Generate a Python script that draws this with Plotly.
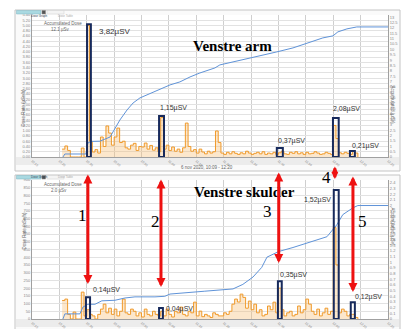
import numpy as np
import pandas as pd
import plotly.graph_objects as go

# ---------------------------------------------------------------- data
START = pd.Timestamp("2020-11-06 10:10")
END = pd.Timestamp("2020-11-06 12:20")

# one dose-rate sample per minute after 10:10
minutes = list(range(11, 120))

# left arm dosimeter, dose rate (µSv/h)
arm_rate = [
    0.30, 0.42, 0.25, 0, 0, 0, 0, 0.34, 0,
    5.00, 0.60, 0.19, 0.28, 0.15, 0.76, 0.40, 1.18, 0.91, 0.45,
    0.76, 1.10, 0.55, 0.60, 0.35, 0.30, 0.45, 0.52, 0.25, 0.40,
    0.38, 0.53, 0.30, 0.44, 0.26, 0.35, 0.20, 1.50, 0.30, 0.45,
    0.25, 0.38, 0.22, 0.30, 0.18, 0.35, 1.29, 0.40, 0.22, 0.28,
    0.15, 0.30, 0.19, 0.12, 0.22, 0.15, 0.20, 0.99, 0.55, 0.15,
    0.10, 0.18, 0.12, 0.20, 0.14, 0.10, 0.16, 0.12, 0.22, 0.15,
    0.10, 0.14, 0.18, 0.12, 0.20, 0.10, 0.15, 0.12, 0.18, 0.10,
    0.16, 0.22, 0.12, 0.10, 0.18, 0.14, 0.20, 0.12, 0.16, 0.10,
    0.18, 0.12, 0.14, 0.20, 0.15, 0.10, 0.12, 0.18, 0.14, 0.10,
    1.20, 0.70, 0.16, 0.12, 0.18, 0.14, 0.10, 0.22, 0.15, 0,
]

# left shoulder dosimeter, dose rate (nSv/h)
shoulder_rate = [
    120, 129, 30, 0, 45, 0, 0, 174, 20,
    60, 30, 20, 0, 30, 64, 96, 40, 70, 30,
    64, 20, 50, 129, 40, 30, 64, 50, 20, 40,
    13, 64, 30, 20, 50, 30, 20, 50, 20, 64,
    30, 13, 50, 40, 77, 30, 20, 50, 40, 109,
    20, 51, 15, 30, 20, 10, 40, 30, 20, 20,
    40, 30, 50, 96, 129, 110, 161, 140, 70, 116,
    60, 96, 40, 60, 20, 30, 84, 60, 109, 40,
    200, 60, 20, 40, 50, 20, 30, 84, 40, 60,
    129, 96, 50, 30, 64, 20, 40, 70, 30, 50,
    592, 350, 40, 64, 50, 20, 30, 30, 10, 0,
]

# accumulated dose curves (µSv)
arm_acc_min = [11.3, 12.0, 19.7, 20.4, 21.5, 24.8, 28.5, 30.3, 32.1, 34.7,
               36.9, 39.4, 42.0, 45.6, 47.8, 50.4, 54.0, 57.7, 61.3, 66.8,
               68.6, 73.4, 80.7, 89.4, 95.3, 101.5, 106.2, 109.9, 111.7, 115.0,
               118.6, 130.0]
arm_acc = [0, 0.28, 0.28, 1.30, 1.45, 1.47, 1.86, 2.70, 3.44, 4.37,
           5.02, 5.49, 5.77, 6.14, 6.42, 6.70, 6.98, 7.44, 7.81, 8.28,
           8.56, 8.83, 9.21, 9.77, 10.14, 10.70, 11.07, 11.26, 11.63, 11.91,
           12.09, 12.09]

shoulder_acc_min = [11.3, 12.0, 17.5, 18.6, 20.4, 23.0, 25.5, 30.3, 33.9, 37.6,
                    44.9, 48.5, 50.4, 54.7, 63.1, 73.4, 77.0, 80.7, 83.9, 85.8,
                    90.1, 95.3, 101.5, 107.7, 111.3, 113.5, 117.2, 119.0, 130.0]
shoulder_acc = [0, 0.09, 0.09, 0.21, 0.26, 0.26, 0.32, 0.33, 0.37, 0.39,
                0.39, 0.40, 0.44, 0.46, 0.49, 0.53, 0.61, 0.74, 0.91, 1.09,
                1.19, 1.26, 1.35, 1.45, 1.66, 1.84, 1.96, 2.00, 2.00]

arm_total = "12.1 µSv"
shoulder_total = "2.0 µSv"

# highlighted exposure windows (minutes after 10:10) and dose per window
arm_win_start = [20.1, 46.4, 89.4, 109.9, 116.1]
arm_win_end = [21.5, 48.2, 91.6, 112.0, 117.9]
arm_win_peak = [5.05, 1.56, 0.34, 1.48, 0.23]
arm_dose = [3.82, 1.15, 0.37, 2.08, 0.21]

shoulder_win_start = [19.7, 46.4, 89.8, 110.2, 116.4]
shoulder_win_end = [21.2, 47.8, 91.2, 112.0, 117.9]
shoulder_win_peak = [141, 71, 244, 836, 109]
shoulder_dose = [0.14, 0.04, 0.35, 1.52, 0.12]

# numbered procedure steps
step_min = [20.4, 47.1, 90.1, 110.6, 117.2]
step_labels = ["1", "2", "3", "4", "5"]

# ---------------------------------------------------------------- helpers
W, H = 402, 329


def t(m):
    return START + pd.to_timedelta(np.asarray(m, dtype=float), unit="min")


def ts(m):
    return str(START + pd.Timedelta(minutes=float(m)))


def px(x):
    return x / W


def py(y):
    return 1 - y / H


def dose_text(v):
    return f"{v:.2f}".replace(".", ",") + "µSV"


SANS = "Liberation Sans"
SERIF = "Liberation Serif"
ORANGE = "#f09a2a"
ORANGE_FILL = "rgba(247,186,110,0.35)"
BLUE = "#5f93d8"
NAVY = "#172a5c"
RED = "#ee1111"
tick_font = dict(family=SANS, size=4, color="#888")
xtick_font = dict(family=SANS, size=3.2, color="#888")

fig = go.Figure()

# ---------------------------------------------------------------- traces
fig.add_trace(go.Scatter(x=t(minutes), y=arm_rate, xaxis="x", yaxis="y",
                         mode="lines", line=dict(color=ORANGE, width=1, shape="hv"),
                         fill="tozeroy", fillcolor=ORANGE_FILL, showlegend=False))
fig.add_trace(go.Scatter(x=t(arm_acc_min), y=arm_acc, xaxis="x", yaxis="y2",
                         mode="lines", line=dict(color=BLUE, width=1), showlegend=False))
fig.add_trace(go.Scatter(x=t(minutes), y=shoulder_rate, xaxis="x2", yaxis="y3",
                         mode="lines", line=dict(color=ORANGE, width=1, shape="hv"),
                         fill="tozeroy", fillcolor=ORANGE_FILL, showlegend=False))
fig.add_trace(go.Scatter(x=t(shoulder_acc_min), y=shoulder_acc, xaxis="x2", yaxis="y4",
                         mode="lines", line=dict(color=BLUE, width=1), showlegend=False))

# ---------------------------------------------------------------- axes
xdom = [px(32), px(388)]
top_dom = [py(157), py(15)]
bot_dom = [py(319), py(180)]

xcommon = dict(type="date", range=[str(START), str(END)], tick0=str(START), dtick=600000,
               tickformat="%H:%M", tickangle=40, tickfont=xtick_font, showgrid=True,
               gridcolor="#cfcfcf", gridwidth=1, showline=True, linecolor="#a0a0a0",
               ticks="", zeroline=False, domain=xdom, automargin=False,
               ticklabelstandoff=0)
ycommon = dict(showgrid=True, gridcolor="#e2e2e2", gridwidth=1, zeroline=False,
               showline=True, linecolor="#a0a0a0", ticks="", tickfont=tick_font,
               automargin=False)
yright = dict(showgrid=False, zeroline=False, ticks="", tickfont=tick_font,
              side="right", automargin=False, showline=True, linecolor="#a0a0a0")

fig.update_layout(
    width=W, height=H, margin=dict(l=0, r=0, t=0, b=0),
    paper_bgcolor="white", plot_bgcolor="white", showlegend=False,
    xaxis=dict(xcommon, anchor="y"),
    xaxis2=dict(xcommon, anchor="y3"),
    yaxis=dict(ycommon, domain=top_dom, range=[0, 5.4], dtick=0.2, tickformat=".2f", anchor="x"),
    yaxis2=dict(yright, overlaying="y", range=[0, 13.2], dtick=0.5, anchor="x"),
    yaxis3=dict(ycommon, domain=bot_dom, range=[0, 900], dtick=50, anchor="x2"),
    yaxis4=dict(yright, overlaying="y3", range=[0, 2.45], dtick=0.1, anchor="x2"),
)

shapes = []
annotations = []

# ---------------------------------------------------------------- window chrome
for top, bottom, plot_top, plot_bottom in [(10, 171, 15, 157), (175, 340, 180, 319)]:
    shapes.append(dict(type="rect", xref="paper", yref="paper", layer="below",
                       x0=px(15), x1=px(400), y0=py(bottom), y1=py(top),
                       line=dict(color="#c4c4c4", width=1), fillcolor="#fafafa"))
    shapes.append(dict(type="rect", xref="paper", yref="paper", layer="below",
                       x0=px(16), x1=px(399), y0=py(plot_bottom + 8), y1=py(plot_bottom),
                       line=dict(width=0), fillcolor="#ececec"))
    shapes.append(dict(type="rect", xref="paper", yref="paper", layer="below",
                       x0=px(32), x1=px(388), y0=py(plot_bottom), y1=py(plot_top),
                       line=dict(width=0), fillcolor="white"))
    # tab strip
    shapes.append(dict(type="rect", xref="paper", yref="paper",
                       x0=px(16.5), x1=px(41), y0=py(top + 4), y1=py(top + 0.5),
                       line=dict(color="#7fb7c2", width=0.5), fillcolor="#a9d9e1"))
    shapes.append(dict(type="rect", xref="paper", yref="paper",
                       x0=px(42), x1=px(45.5), y0=py(top + 4), y1=py(top + 0.5),
                       line=dict(color="#888", width=0.5), fillcolor="#555"))
    shapes.append(dict(type="rect", xref="paper", yref="paper",
                       x0=px(47), x1=px(64), y0=py(top + 4), y1=py(top + 0.5),
                       line=dict(color="#d0d0d0", width=0.5), fillcolor="#f4f4f4"))
    annotations.append(dict(xref="paper", yref="paper", x=px(29), y=py(top + 2.3),
                            text="Dose Graph", showarrow=False,
                            font=dict(family=SANS, size=3, color="#345")))
    annotations.append(dict(xref="paper", yref="paper", x=px(55.5), y=py(top + 2.3),
                            text="Dose Table", showarrow=False,
                            font=dict(family=SANS, size=3, color="#aaa")))

small = dict(family=SANS, size=4.5, color="#666")
for plot_top, total, rate_title in [(15, arm_total, "Dose Rate (µSv/h)"),
                                    (180, shoulder_total, "Dose Rate (nSv/h)")]:
    annotations.append(dict(xref="paper", yref="paper", x=px(42), y=py(plot_top + 4),
                            xanchor="left", text="Accumulated Dose", showarrow=False, font=small))
    annotations.append(dict(xref="paper", yref="paper", x=px(49), y=py(plot_top + 10),
                            xanchor="left", text=total, showarrow=False, font=small))
    annotations.append(dict(xref="paper", yref="paper", x=px(19), y=py(plot_top + 72),
                            text=rate_title, textangle=-90, showarrow=False, font=small))
    annotations.append(dict(xref="paper", yref="paper", x=px(396.5), y=py(plot_top + 68),
                            text="Accumulated (µSv)", textangle=90, showarrow=False, font=small))

annotations.append(dict(xref="paper", yref="paper", x=px(207), y=py(167.5),
                        text="6 nov 2020, 10:09 - 12:20", showarrow=False, font=small))

# ---------------------------------------------------------------- highlighted windows
label_fonts = [8, 7, 7, 7, 7]
# (anchor edge, xanchor, xshift, yshift) per window label
arm_label_pos = [("end", "left", 6, -7), ("start", "left", -1, 8), ("start", "left", -1, 7),
                 ("start", "left", -2, 9), ("start", "left", 0, 5)]
shoulder_label_pos = [("end", "left", 1, 7), ("end", "left", 1, -1), ("start", "left", 0, 6),
                      ("start", "right", -1, -10), ("start", "left", 2, 5)]

for xr, yr, w0, w1, peak, dose, pos in [
        ("x", "y", arm_win_start, arm_win_end, arm_win_peak, arm_dose, arm_label_pos),
        ("x2", "y3", shoulder_win_start, shoulder_win_end, shoulder_win_peak, shoulder_dose,
         shoulder_label_pos)]:
    for i in range(len(dose)):
        shapes.append(dict(type="rect", xref=xr, yref=yr, x0=ts(w0[i]), x1=ts(w1[i]),
                           y0=0, y1=peak[i], line=dict(color=NAVY, width=2),
                           fillcolor="rgba(0,0,0,0)"))
        edge, xa, dx, dy = pos[i]
        annotations.append(dict(xref=xr, yref=yr, x=ts(w0[i] if edge == "start" else w1[i]),
                                y=peak[i], xanchor=xa, yanchor="middle", xshift=dx, yshift=dy,
                                text=dose_text(dose[i]), showarrow=False,
                                font=dict(family=SANS, size=label_fonts[i] if xr == "x" else 7,
                                          color="#333")))

# ---------------------------------------------------------------- titles
annotations.append(dict(xref="paper", yref="paper", x=px(274), y=py(36),
                        text="<b>Venstre arm</b>", showarrow=False,
                        font=dict(family=SERIF, size=15, color="black")))
annotations.append(dict(xref="paper", yref="paper", x=px(244), y=py(192),
                        text="<b>Venstre skulder</b>", showarrow=False,
                        font=dict(family=SERIF, size=15, color="black")))

# ---------------------------------------------------------------- step arrows
arrow_span = [(173, 284), (178, 287), (171, 263), (165, 179), (175, 292)]
head_size = [0.6, 0.6, 0.6, 0.45, 0.6]
number_pos = [(-5, 215), (-5, 233), (-11, 223), (-8, 177), (10, 233)]
for i, m in enumerate(step_min):
    y_top, y_bot = arrow_span[i]
    annotations.append(dict(xref="x2", yref="paper", x=ts(m), y=py(y_bot),
                            ax=0, ay=-(y_bot - y_top), axref="pixel", ayref="pixel",
                            text="", showarrow=True, arrowside="end+start",
                            arrowhead=2, startarrowhead=2, arrowsize=head_size[i],
                            startarrowsize=head_size[i],
                            arrowwidth=3, arrowcolor=RED, standoff=0, startstandoff=0))
    dx, y_num = number_pos[i]
    annotations.append(dict(xref="x2", yref="paper", x=ts(m), y=py(y_num), xshift=dx,
                            text=step_labels[i], showarrow=False,
                            font=dict(family=SERIF, size=17, color="black")))

fig.update_layout(shapes=shapes, annotations=annotations)
fig.write_html("out.html")
